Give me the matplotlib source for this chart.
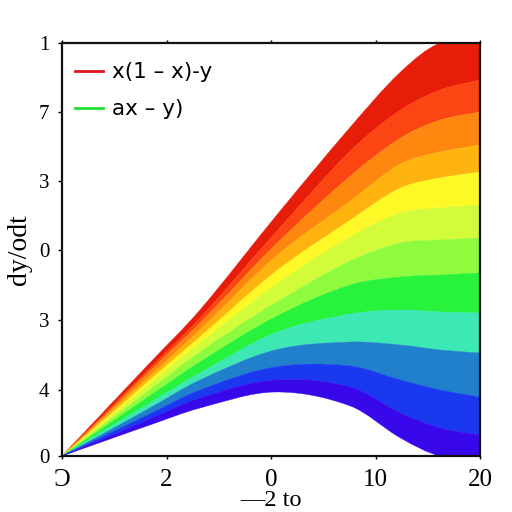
import matplotlib
matplotlib.use("Agg")
import matplotlib.pyplot as plt
from matplotlib.lines import Line2D
from matplotlib.path import Path
from matplotlib.patches import PathPatch

# sample positions along x
x_vals = [0, 2.3, 4.2, 6.6, 10.2, 13.8, 16.2, 18.1, 20]

# band edges, top of the fan to the bottom, height above the x axis
edge_0 = [0, 51, 93, 146, 239, 329, 384, 413, 413]
edge_1 = [0, 48, 88, 138, 223, 305, 346, 366, 376]
edge_2 = [0, 46, 85, 133, 211, 280, 318, 336, 344]
edge_3 = [0, 44, 80, 126, 199, 255, 292, 304, 311]
edge_4 = [0, 41, 76, 119, 184, 236, 268, 278, 284]
edge_5 = [0, 39, 72, 113, 171, 219, 243, 248, 251]
edge_6 = [0, 36, 66, 104, 153, 195, 213, 216, 218]
edge_7 = [0, 33, 60, 94, 139, 171, 179, 181, 183]
edge_8 = [0, 29, 53, 83, 123, 142, 146, 144, 143]
edge_9 = [0, 26, 48, 76, 106, 114, 111, 106, 103]
edge_10 = [0, 23, 42, 66, 89, 90, 76, 66, 59]
edge_11 = [0, 20, 37, 58, 76, 69, 43, 28, 21]
edge_12 = [0, 17, 31, 48, 64, 50, 18, 0, 0]

edges = [edge_0, edge_1, edge_2, edge_3, edge_4, edge_5, edge_6,
         edge_7, edge_8, edge_9, edge_10, edge_11, edge_12]

band_colors = ["#e71d0a", "#fb4512", "#fe880f", "#ffb30f", "#fdf826", "#d2fb3a",
               "#8ffb3f", "#27f23c", "#3de8b5", "#2080cc", "#1a38f0", "#3808ea"]

x_ticks = [0, 5, 10, 15, 20]
x_tick_labels = ["\u0186", "2", "0", "10", "20"]
y_ticks = [0, 66, 136, 206, 275, 344, 413]
y_tick_labels = ["0", "4", "3", "0", "3", "7", "1"]

legend_labels = ["x(1 \u2013 x)-y", "ax \u2013 y)"]
legend_colors = ["#e0141c", "#1fe030"]


def smooth_segments(xs, ys):
    # catmull-rom through the samples, as bezier control points
    out = []
    n = len(xs)
    for i in range(n - 1):
        i0 = max(i - 1, 0)
        i3 = min(i + 2, n - 1)
        h = xs[i + 1] - xs[i]
        m1 = (ys[i + 1] - ys[i0]) / (xs[i + 1] - xs[i0])
        m2 = (ys[i3] - ys[i]) / (xs[i3] - xs[i])
        out.append((xs[i] + h / 3, ys[i] + m1 * h / 3))
        out.append((xs[i + 1] - h / 3, ys[i + 1] - m2 * h / 3))
        out.append((xs[i + 1], ys[i + 1]))
    return out


def band_path(xs, upper, lower):
    verts = [(xs[0], upper[0])] + smooth_segments(xs, upper)
    codes = [Path.MOVETO] + [Path.CURVE4] * (len(verts) - 1)
    verts.append((xs[-1], lower[-1]))
    codes.append(Path.LINETO)
    back = smooth_segments(xs[::-1], lower[::-1])
    verts += back
    codes += [Path.CURVE4] * len(back)
    verts.append((xs[0], upper[0]))
    codes.append(Path.CLOSEPOLY)
    return Path(verts, codes)


fig = plt.figure(figsize=(5.12, 5.12), dpi=100)
ax = fig.add_axes([62 / 512, 1 - 456 / 512, 418 / 512, 413 / 512])

for i in range(len(band_colors)):
    ax.add_patch(PathPatch(band_path(x_vals, edges[i], edges[i + 1]),
                           facecolor=band_colors[i], edgecolor=band_colors[i], linewidth=0.3))

ax.set_xlim(0, 20)
ax.set_ylim(0, 413)
ax.set_xticks(x_ticks)
ax.set_xticklabels(x_tick_labels, family="Liberation Serif", fontsize=18)
ax.set_yticks(y_ticks)
ax.set_yticklabels(y_tick_labels, family="Liberation Serif", fontsize=15)
ax.tick_params(axis="x", length=2, width=1, pad=7, top=True)
ax.tick_params(axis="y", length=3, width=1, pad=6)
for s in ax.spines.values():
    s.set_linewidth(1.6)
    s.set_color("#111111")

ax.set_xlabel("\u20142 to", family="Liberation Serif", fontsize=17.5, labelpad=0)
ax.set_ylabel("dy/odt", family="Liberation Serif", fontsize=20, labelpad=5)

handles = [Line2D([], [], color=c, linewidth=2) for c in legend_colors]
ax.legend(handles, legend_labels, loc="upper left", frameon=False,
          prop={"family": "DejaVu Sans", "size": 15.5}, handlelength=1.3,
          handletextpad=0.4, labelspacing=0.8, borderpad=0.3,
          bbox_to_anchor=(0.0, 0.985), borderaxespad=0.3)

fig.savefig("out.png", dpi=100)
